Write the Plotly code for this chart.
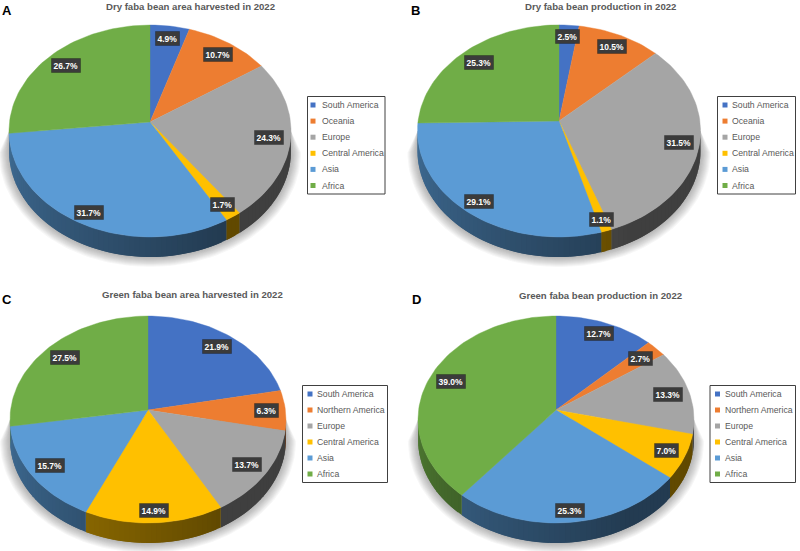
import numpy as np
import plotly.graph_objects as go

REGIONS_DRY = ["South America", "Oceania", "Europe", "Central America", "Asia", "Africa"]
REGIONS_GREEN = ["South America", "Northern America", "Europe", "Central America", "Asia", "Africa"]

AREA_DRY = [4.9, 10.7, 24.3, 1.7, 31.7, 26.7]
PROD_DRY = [2.5, 10.5, 31.5, 1.1, 29.1, 25.3]
AREA_GREEN = [21.9, 6.3, 13.7, 14.9, 15.7, 27.5]
PROD_GREEN = [12.7, 2.7, 13.3, 7.0, 25.3, 39.0]

COLORS = ["#4472C4", "#ED7D31", "#A5A5A5", "#FFC000", "#5B9BD5", "#70AD47"]

# pie geometry in page pixels: apex, radii, perspective, depth
panels = [
    dict(letter="A", title="Dry faba bean area harvested in 2022", values=AREA_DRY, names=REGIONS_DRY,
         cx=150, cy=122, a=140.5, b=105.2, k=0.085, depth=20,
         label_r=[0.865, 0.854, 0.849, 0.881, 0.898, 0.846],
         letter_xy=(7, 10), title_xy=(190, 6), box=(307.5, 96.5, 385, 194), swatch_x=313, text_x=320),
    dict(letter="B", title="Dry faba bean production in 2022", values=PROD_DRY, names=REGIONS_DRY,
         cx=559, cy=121, a=140.9, b=105.1, k=0.094, depth=20,
         label_r=[0.87, 0.864, 0.858, 0.907, 0.89, 0.845],
         letter_xy=(415, 10), title_xy=(600, 6), box=(717.5, 96.5, 795.5, 194), swatch_x=725, text_x=730),
    dict(letter="C", title="Green faba bean area harvested in 2022", values=AREA_GREEN, names=REGIONS_GREEN,
         cx=148, cy=410, a=137.4, b=102.6, k=0.092, depth=20,
         label_r=[0.844, 0.864, 0.855, 0.903, 0.851, 0.835],
         letter_xy=(7, 299), title_xy=(192.5, 294), box=(302.5, 385.5, 387.5, 482.5), swatch_x=310, text_x=315),
    dict(letter="D", title="Green faba bean production in 2022", values=PROD_GREEN, names=REGIONS_GREEN,
         cx=556, cy=410, a=137.4, b=102.6, k=0.092, depth=20,
         label_r=[0.864, 0.83, 0.84, 0.862, 0.906, 0.833],
         letter_xy=(416, 299), title_xy=(600, 295), box=(710, 385.5, 795.5, 482.5), swatch_x=717.5, text_x=722.5),
]

FONT = "Liberation Sans"


def project(p, t, r=1.0):
    # t is clockwise from the top of the pie, r is the fraction of the radius
    u = r * np.sin(t)
    v = -r * np.cos(t)
    w = 1 - p["k"] * v
    return p["cx"] + p["a"] * u / w, p["cy"] + p["b"] * v / w


def polygon(fig, x, y, color, width=0.0):
    fig.add_trace(
        go.Scatter(x=x, y=y, mode="lines", fill="toself", fillcolor=color,
                   line=dict(color=color, width=width), hoverinfo="skip", showlegend=False)
    )


def shade(color, f):
    r, g, b = int(color[1:3], 16), int(color[3:5], 16), int(color[5:7], 16)
    return f"rgb({r * f:.0f},{g * f:.0f},{b * f:.0f})"


fig = go.Figure()
annotations = []
shapes = []

for p in panels:
    edge = np.arccos(-p["k"])
    front = np.linspace(edge, 2 * np.pi - edge, 90)

    # soft shadow under the pie
    left_x, left_y = project(p, front[-1])
    right_x, right_y = project(p, front[0])
    for e in np.arange(10, 0, -1.0):
        rx, ry = project(p, front)
        mid = (left_x + right_x) / 2
        sx = mid + (rx - mid) * (1 + e / p["a"])
        sy = ry + p["depth"] + e * 0.9 * (np.abs(np.cos(front)) + 0.1)
        polygon(fig, np.r_[right_x, sx, left_x], np.r_[right_y, sy, left_y], "rgba(60,60,60,0.04)")

    values = np.array(p["values"])
    stops = np.r_[0, np.cumsum(values)] / values.sum() * 2 * np.pi

    # side wall, split into overlapping bands for the gradient
    for i, color in enumerate(COLORS):
        lo, hi = max(stops[i], edge), min(stops[i + 1], 2 * np.pi - edge)
        if hi <= lo:
            continue
        cuts = np.r_[np.arange(lo, hi, np.radians(2)), hi]
        for t0, t1 in zip(cuts[:-1], cuts[1:]):
            # each band runs past its end so no seam shows through
            ts = np.linspace(t0, hi if t1 + np.radians(2) > hi else t1 + np.radians(2), 4)
            rx, ry = project(p, ts)
            f = np.clip(0.38 + (np.degrees(t0) - 150) / 115 * 0.32, 0.38, 0.72)
            polygon(fig, np.r_[rx, rx[::-1]], np.r_[ry, ry[::-1] + p["depth"]], shade(color, f))

    # top face
    for i, color in enumerate(COLORS):
        ts = np.linspace(stops[i], stops[i + 1], max(int(values[i] * 2), 4))
        rx, ry = project(p, ts)
        polygon(fig, np.r_[p["cx"], rx, p["cx"]], np.r_[p["cy"], ry, p["cy"]], color, 0.4)

    # value labels, the faint border stands in for their drop shadow
    for i, v in enumerate(values):
        lx, ly = project(p, (stops[i] + stops[i + 1]) / 2, p["label_r"][i])
        annotations.append(
            dict(x=lx, y=ly, xref="x", yref="y", text=f"<b>{v:.1f}%</b>", showarrow=False,
                 bgcolor="#3b3b3b", bordercolor="rgba(0,0,0,0.25)", borderwidth=1, borderpad=1.5,
                 font=dict(family=FONT, size=8.5, color="white"))
        )

    annotations.append(
        dict(x=p["letter_xy"][0], y=p["letter_xy"][1], xref="x", yref="y", text=f"<b>{p['letter']}</b>",
             showarrow=False, font=dict(family=FONT, size=13, color="black"))
    )
    annotations.append(
        dict(x=p["title_xy"][0], y=p["title_xy"][1], xref="x", yref="y", text=f"<b>{p['title']}</b>",
             showarrow=False, font=dict(family=FONT, size=9.6, color="#595959"))
    )

    # legend
    x0, y0, x1, y1 = p["box"]
    shapes.append(dict(type="rect", xref="x", yref="y", x0=x0, y0=y0, x1=x1, y1=y1,
                       line=dict(color="#404040", width=1), fillcolor="white"))
    step = (y1 - y0 - 17) / 5
    for i, name in enumerate(p["names"]):
        y = y0 + 8.5 + i * step
        shapes.append(dict(type="rect", xref="x", yref="y", x0=p["swatch_x"] - 2.5, x1=p["swatch_x"] + 2.5,
                           y0=y - 2.5, y1=y + 2.5, line=dict(width=0), fillcolor=COLORS[i]))
        annotations.append(
            dict(x=p["text_x"], y=y, xref="x", yref="y", text=name, showarrow=False, xanchor="left",
                 font=dict(family=FONT, size=8.7, color="#595959"))
        )

fig.update_layout(
    width=800,
    height=551,
    margin=dict(l=0, r=0, t=0, b=0),
    paper_bgcolor="white",
    plot_bgcolor="white",
    showlegend=False,
    annotations=annotations,
    shapes=shapes,
    xaxis=dict(range=[0, 800], visible=False, fixedrange=True),
    yaxis=dict(range=[551, 0], visible=False, fixedrange=True),
)

# the page's default body margin would push the figure 8px off
fig.write_html("out.html", config={"displayModeBar": False}, post_script="document.body.style.margin='0';")
